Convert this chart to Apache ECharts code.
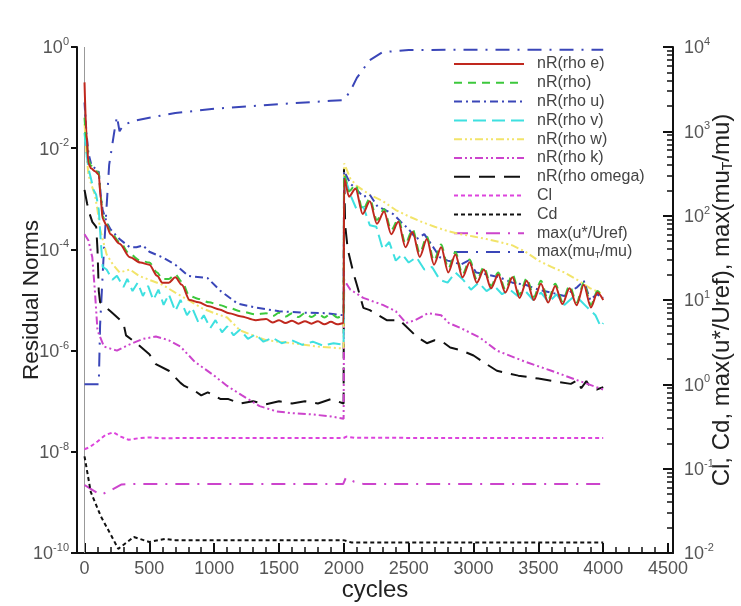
<!DOCTYPE html>
<html><head><meta charset="utf-8">
<script src="https://cdn.jsdelivr.net/npm/echarts@6/dist/echarts.min.js"></script>
<style>html,body{margin:0;padding:0;background:#fff}#c{width:741px;height:606px}</style>
</head><body><div id="c"></div>
<script>
// ---------- tick labels ----------
const xTickValues = [0,500,1000,1500,2000,2500,3000,3500,4000,4500];
const xMinorTickValues = [100,200,300,400,600,700,800,900,1100,1200,1300,1400,1600,1700,1800,1900,2100,2200,2300,2400,2600,2700,2800,2900,3100,3200,3300,3400,3600,3700,3800,3900,4100,4200,4300,4400];
const leftExponents = [-10,-8,-6,-4,-2,0];
const rightExponents = [-2,-1,0,1,2,3,4];
const rightMinorMultipliers = [2,3,4,5,6,7,8,9];

// ---------- series (cycle, value) ----------
const nR_rhoE = [[0,0.2],[15,0.02],[30,5e-3],[50,4e-3],[80,3.5e-3],[110,3e-3],[125,1e-3],[140,4e-4],[170,3e-4],[200,2e-4],[270,1.3e-4],[350,7e-5],[430,5.5e-5],[500,5e-5],[560,3e-5],[600,2.2e-5],[650,2.2e-5],[700,2.8e-5],[750,2e-5],[810,1e-5],[880,9e-6],[960,7.5e-6],[1040,6.5e-6],[1115,5.5e-6],[1200,4.8e-6],[1320,4e-6],[1400,4.2e-6],[1450,3.6e-6],[1500,4e-6],[1550,3.5e-6],[1600,3.9e-6],[1650,3.4e-6],[1700,3.8e-6],[1750,3.4e-6],[1800,3.8e-6],[1850,3.3e-6],[1900,3.7e-6],[1950,3.3e-6],[1998,3.5e-6],
[2002,2.5e-3],[2040,1.1e-3],[2090,1.6e-3],[2145,5e-4],[2200,8.9e-4],[2255,3.2e-4],[2310,5.6e-4],[2365,2e-4],[2420,3.5e-4],[2475,1.1e-4],[2530,2.2e-4],[2585,7.1e-5],[2640,1.6e-4],[2695,5e-5],[2750,1.1e-4],[2805,3.5e-5],[2860,7.9e-5],[2915,2.8e-5],[2970,5.6e-5],[3025,2.2e-5],[3080,4e-5],[3135,1.7e-5],[3190,3.2e-5],[3245,1.4e-5],[3300,2.8e-5],[3355,1.1e-5],[3410,2.4e-5],[3465,1e-5],[3520,2.1e-5],[3575,8.9e-6],[3630,1.9e-5],[3685,8.3e-6],[3740,1.7e-5],[3795,7.9e-6],[3850,2e-5],[3905,7.1e-6],[3955,1.4e-5],[4000,1e-5]];

const nR_rho = [[0,0.04],[15,0.015],[30,6e-3],[50,4.5e-3],[80,3.8e-3],[110,3.2e-3],[125,1.1e-3],[140,4.5e-4],[170,3.2e-4],[200,2.2e-4],[270,1.4e-4],[350,8e-5],[430,6e-5],[500,5.5e-5],[560,3.5e-5],[600,2.6e-5],[650,2.6e-5],[700,3.2e-5],[750,2.3e-5],[810,1.2e-5],[880,1.05e-5],[960,9e-6],[1040,8e-6],[1115,7e-6],[1200,6e-6],[1320,5.2e-6],[1400,5.5e-6],[1450,4.8e-6],[1500,5.6e-6],[1550,4.7e-6],[1600,5.5e-6],[1650,4.6e-6],[1700,5.5e-6],[1750,4.6e-6],[1800,5.4e-6],[1850,4.5e-6],[1900,5.4e-6],[1950,4.5e-6],[1998,5e-6],
[2002,3e-3],[2040,1.4e-3],[2090,1.9e-3],[2145,6e-4],[2200,1e-3],[2255,3.8e-4],[2310,6.3e-4],[2365,2.4e-4],[2420,4e-4],[2475,1.3e-4],[2530,2.5e-4],[2585,8.5e-5],[2640,1.8e-4],[2695,6e-5],[2750,1.25e-4],[2805,4.2e-5],[2860,8.9e-5],[2915,3.2e-5],[2970,6.3e-5],[3025,2.5e-5],[3080,4.5e-5],[3135,1.9e-5],[3190,3.5e-5],[3245,1.6e-5],[3300,3.2e-5],[3355,1.3e-5],[3410,2.7e-5],[3465,1.15e-5],[3520,2.4e-5],[3575,1e-5],[3630,2.1e-5],[3685,9.5e-6],[3740,1.9e-5],[3795,9e-6],[3850,2.2e-5],[3905,8e-6],[3955,1.5e-5],[4000,1.1e-5]];

const nR_rhoU = [[0,0.08],[15,0.02],[30,8e-3],[50,5e-3],[80,4e-3],[110,3.4e-3],[125,1.2e-3],[140,6e-4],[170,3.5e-4],[200,2.5e-4],[270,1.6e-4],[350,1.1e-4],[400,1.1e-4],[450,1.2e-4],[500,9e-5],[600,7e-5],[700,5e-5],[800,3e-5],[950,2.7e-5],[1050,1.5e-5],[1180,8.5e-6],[1330,7e-6],[1500,6e-6],[1700,5.6e-6],[1850,5.5e-6],[1998,5e-6],
[2002,3.5e-3],[2050,2e-3],[2100,1.5e-3],[2150,1.1e-3],[2200,1.2e-3],[2260,7e-4],[2320,6e-4],[2380,5e-4],[2440,3.5e-4],[2500,2.5e-4],[2560,1.6e-4],[2620,2e-4],[2680,1.2e-4],[2740,7e-5],[2800,6e-5],[2860,5.5e-5],[2900,5e-5],[2960,6e-5],[3020,3.5e-5],[3100,3.2e-5],[3200,2.8e-5],[3300,2.2e-5],[3400,2e-5],[3500,1.6e-5],[3600,1.4e-5],[3700,1.2e-5],[3800,1.8e-5],[3850,2.4e-5],[3900,1e-5],[3950,1.3e-5],[4000,1.1e-5]];

const nR_rhoV = [[0,0.02],[15,8e-3],[30,4e-3],[50,2.5e-3],[70,1.5e-3],[90,1.2e-3],[110,6e-4],[125,1.5e-4],[140,4.5e-5],[170,4e-5],[215,2.5e-5],[250,3e-5],[300,1.8e-5],[330,2.6e-5],[370,1.5e-5],[410,2.2e-5],[450,1.2e-5],[490,1.9e-5],[530,1e-5],[570,1.6e-5],[610,8e-6],[650,1.3e-5],[700,6e-6],[740,1e-5],[790,5e-6],[830,7e-6],[880,3.5e-6],[920,5e-6],[970,2.8e-6],[1010,4e-6],[1060,2.3e-6],[1100,3e-6],[1150,2e-6],[1200,2.6e-6],[1260,1.7e-6],[1320,2.1e-6],[1380,1.5e-6],[1450,1.8e-6],[1520,1.4e-6],[1600,1.6e-6],[1680,1.3e-6],[1760,1.5e-6],[1840,1.25e-6],[1920,1.4e-6],[1998,1.3e-6],
[2002,3e-3],[2050,1.2e-3],[2100,6e-4],[2150,7e-4],[2200,3e-4],[2250,2.8e-4],[2300,1e-4],[2350,1.4e-4],[2400,6e-5],[2450,8e-5],[2500,5.5e-5],[2560,7e-5],[2620,4e-5],[2680,4.5e-5],[2740,2.5e-5],[2800,2.2e-5],[2860,3.5e-5],[2920,2.5e-5],[2980,1.6e-5],[3040,2.2e-5],[3100,1.5e-5],[3160,1.9e-5],[3220,1.3e-5],[3280,1.6e-5],[3340,1.2e-5],[3400,1.5e-5],[3460,1e-5],[3520,1.4e-5],[3580,9e-6],[3640,1.3e-5],[3700,8e-6],[3760,1.1e-5],[3820,1e-5],[3880,7e-6],[3940,5e-6],[3980,3e-6],[4000,3.5e-6]];

const nR_rhoW = [[0,0.03],[15,8e-3],[30,3e-3],[50,2e-3],[80,1.2e-3],[100,6e-4],[120,2.5e-4],[170,8e-5],[220,5e-5],[270,3.5e-5],[350,4e-5],[420,3e-5],[500,2.5e-5],[600,2e-5],[700,1.4e-5],[800,1e-5],[900,7e-6],[1000,5.5e-6],[1100,4.5e-6],[1200,2.5e-6],[1300,2e-6],[1400,1.6e-6],[1600,1.4e-6],[1800,1.2e-6],[1998,1.1e-6],
[2002,5e-3],[2050,2.5e-3],[2100,1.8e-3],[2200,1.2e-3],[2300,9e-4],[2400,6e-4],[2500,4.5e-4],[2600,3.5e-4],[2700,2.8e-4],[2800,2.3e-4],[2900,2e-4],[3000,1.8e-4],[3100,1.6e-4],[3200,1.4e-4],[3300,1.2e-4],[3400,9e-5],[3500,6e-5],[3600,4.5e-5],[3700,3.5e-5],[3800,2.5e-5],[3900,1.7e-5],[4000,1.3e-5]];

const nR_rhoK = [[0,2e-4],[30,1.5e-4],[60,7e-5],[80,1.5e-5],[100,2.5e-6],[150,1.2e-6],[250,1e-6],[340,1.3e-6],[450,1.7e-6],[550,1.9e-6],[650,1.6e-6],[740,1.2e-6],[850,6e-7],[1000,3.2e-7],[1100,2e-7],[1215,1.3e-7],[1350,8e-8],[1480,6.3e-8],[1600,5.8e-8],[1750,5.5e-8],[1900,5e-8],[1998,4.5e-8],
[2002,2.5e-5],[2050,1.6e-5],[2150,1.1e-5],[2300,8e-6],[2400,6e-6],[2480,3.5e-6],[2550,4e-6],[2650,5.5e-6],[2750,5e-6],[2810,3.5e-6],[2900,2.8e-6],[3050,1.8e-6],[3180,1e-6],[3400,6e-7],[3600,4e-7],[3800,2.6e-7],[4000,1.7e-7]];

const nR_rhoOmega = [[0,1.5e-3],[20,8e-4],[40,5e-4],[60,3.5e-4],[90,2.8e-4],[100,1e-4],[110,1.5e-5],[120,9e-6],[200,6e-6],[300,3.5e-6],[320,2e-6],[400,1.4e-6],[500,8.5e-7],[550,5.4e-7],[650,4e-7],[740,2.3e-7],[770,2e-7],[850,1.6e-7],[900,1.3e-7],[950,1.5e-7],[1000,1.3e-7],[1050,1.1e-7],[1110,1.1e-7],[1200,9e-8],[1300,1e-7],[1400,8.7e-8],[1500,1e-7],[1600,9e-8],[1700,1e-7],[1800,9e-8],[1900,1.1e-7],[1998,9e-8],
[2001,4e-3],[2010,3e-4],[2030,1e-4],[2075,3.3e-5],[2100,2e-5],[2150,7e-6],[2200,6.3e-6],[2330,4e-6],[2430,4e-6],[2560,1.9e-6],[2640,1.4e-6],[2700,1.6e-6],[2760,1.5e-6],[2820,1.15e-6],[2910,1e-6],[3000,8e-7],[3100,5.4e-7],[3180,4e-7],[3345,3.2e-7],[3500,2.8e-7],[3650,2.4e-7],[3750,2.2e-7],[3800,2.6e-7],[3830,1.8e-7],[3870,2.5e-7],[3900,1.9e-7],[3950,1.7e-7],[4000,1.9e-7]];

const cl = [[0,0.17],[40,0.18],[100,0.21],[160,0.25],[220,0.27],[280,0.24],[340,0.22],[420,0.23],[500,0.235],[600,0.23],[1000,0.231],[1998,0.231],[2020,0.24],[2080,0.232],[4000,0.231]];
const cd = [[0,0.14],[48,0.053],[127,0.027],[207,0.016],[260,0.0112],[380,0.0155],[500,0.0135],[620,0.0147],[700,0.0142],[1998,0.0142],[2060,0.0133],[4000,0.0133]];
const maxUstar = [[0,0.064],[60,0.056],[127,0.049],[207,0.056],[286,0.065],[400,0.066],[1000,0.066],[1995,0.066],[2015,0.078],[2080,0.07],[2150,0.066],[4000,0.066]];
const maxMuT = [[0,1.0],[50,1.0],[110,1.0],[120,5],[150,40],[190,400],[230,1000],[250,1500],[270,1000],[300,1200],[400,1350],[500,1450],[700,1650],[1000,1850],[1300,2000],[1600,2150],[1900,2300],[2000,2350],[2050,3000],[2100,4300],[2200,7000],[2300,8700],[2500,9200],[3000,9300],[4000,9300]];

const names = ['nR(rho e)','nR(rho)','nR(rho u)','nR(rho v)','nR(rho w)','nR(rho k)','nR(rho omega)','Cl','Cd','max(u*/Uref)','max(mu_T/mu)'];
const colors = ['#c0281e','#3cc83c','#3a46b8','#3ee0e0','#f2e46a','#cc44cc','#111111','#dd44dd','#111111','#cc44cc','#3a46b8'];
const dashes = ['solid',[8,6],[8,4,2,4],[13,6],[8,3,2,3,2,3],[8,3,2,3,2,3],[16,9],[4,3],[4,3],[14,8,2,8],[14,8,2,8]];
const dataSets = [nR_rhoE,nR_rho,nR_rhoU,nR_rhoV,nR_rhoW,nR_rhoK,nR_rhoOmega,cl,cd,maxUstar,maxMuT];
const onRight = [false,false,false,false,false,false,false,true,true,true,true];
const smoothed = [0.3,0.3,0,0,0,0,0,0,0,0,0];

const FONT = 'Liberation Sans, Arial, sans-serif';
const X_MIN = -58, X_MAX = 4538;

const supRich = {
  b: {fontSize: 18, fontFamily: FONT, color: '#555', verticalAlign: 'bottom'},
  e: {fontSize: 11, fontFamily: FONT, color: '#555', verticalAlign: 'bottom', padding: [0,0,10,0]}
};

const series = names.map((n, i) => ({
  name: n, type: 'line', data: dataSets[i], symbol: 'none',
  smooth: smoothed[i], smoothMonotone: 'x',
  xAxisIndex: 0, yAxisIndex: onRight[i] ? 1 : 0,
  lineStyle: {color: colors[i], width: 2, type: dashes[i]},
  itemStyle: {color: colors[i]}, z: 5 + (10 - i), animation: false
}));
series[0].markLine = {silent: true, symbol: 'none', animation: false, label: {show: false},
  lineStyle: {color: '#999', width: 1, type: 'solid'}, data: [{xAxis: 0}]};

const rightMinor = [];
rightExponents.slice(0, -1).forEach(d => rightMinorMultipliers.forEach(k => rightMinor.push(d + Math.log10(k))));

const chart = echarts.init(document.getElementById('c'), null, {renderer: 'canvas'});
chart.setOption({
  animation: false,
  backgroundColor: '#fff',
  grid: {left: 77, top: 47, width: 596, height: 506, containLabel: false, outerBoundsMode: 'none'},
  legend: {
    orient: 'vertical', left: 453, top: 56, padding: 0,
    itemWidth: 70, itemHeight: 13, itemGap: 2.8,
    data: names, selectedMode: false,
    itemStyle: {opacity: 0},
    textStyle: {fontFamily: FONT, fontSize: 16, lineHeight: 13, color: '#444', padding: [0,0,0,8],
      rich: {sub: {fontSize: 9, lineHeight: 13, fontFamily: FONT, color: '#444', padding: [7,0,0,0]}}},
    formatter: n => n === 'max(mu_T/mu)' ? 'max(mu{sub|T}/mu)' : n
  },
  xAxis: [{
    type: 'value', min: X_MIN, max: X_MAX, position: 'bottom',
    name: 'cycles', nameLocation: 'middle', nameGap: 25, nameMoveOverlap: false,
    nameTextStyle: {fontFamily: FONT, fontSize: 24, color: '#222'},
    axisLine: {show: true, onZero: false, lineStyle: {color: '#111', width: 2}},
    axisTick: {show: true, inside: true, length: 10, customValues: xTickValues, lineStyle: {color: '#111', width: 2}},
    axisLabel: {show: true, customValues: xTickValues, formatter: v => String(v), fontFamily: FONT, fontSize: 18, color: '#555', margin: 7},
    splitLine: {show: false}
  }, {
    type: 'value', min: X_MIN, max: X_MAX, position: 'top', offset: -506,
    axisLine: {show: false, onZero: false},
    axisTick: {show: true, inside: false, length: 6, customValues: xMinorTickValues, lineStyle: {color: '#111', width: 1.5}},
    axisLabel: {show: false}, splitLine: {show: false}
  }],
  yAxis: [{
    type: 'log', logBase: 10, min: 1e-10, max: 1, position: 'left',
    axisLine: {show: true, onZero: false, lineStyle: {color: '#111', width: 2}},
    axisTick: {show: false}, axisLabel: {show: false}, splitLine: {show: false}
  }, {
    type: 'log', logBase: 10, min: 1e-2, max: 1e4, position: 'right',
    axisLine: {show: true, onZero: false, lineStyle: {color: '#111', width: 2}},
    axisTick: {show: false}, axisLabel: {show: false}, splitLine: {show: false}
  }, {
    type: 'value', min: -10, max: 0, interval: 2, position: 'left',
    name: 'Residual Norms', nameLocation: 'middle', nameGap: 34, nameMoveOverlap: false,
    nameTextStyle: {fontFamily: FONT, fontSize: 22.5, color: '#222'},
    axisLine: {show: false, onZero: false},
    axisTick: {show: true, inside: false, length: 6, lineStyle: {color: '#111', width: 2}},
    axisLabel: {show: true, margin: 8, formatter: v => '{b|10}{e|' + v + '}', rich: supRich},
    splitLine: {show: false}
  }, {
    type: 'value', min: -2, max: 4, interval: 1, position: 'right',
    name: 'Cl, Cd, max(u*/Uref), max(mu{sub|T}/mu)', nameLocation: 'middle', nameGap: 37, nameMoveOverlap: false,
    nameTextStyle: {fontFamily: FONT, fontSize: 24, color: '#222',
      rich: {sub: {fontSize: 14, fontFamily: FONT, color: '#222', padding: [11,0,0,0]}}},
    axisLine: {show: false, onZero: false},
    axisTick: {show: true, inside: true, length: 10, lineStyle: {color: '#111', width: 2}},
    axisLabel: {show: true, margin: 11, formatter: v => '{b|10}{e|' + v + '}', rich: supRich},
    splitLine: {show: false}
  }, {
    type: 'value', min: -2, max: 4, position: 'right',
    axisLine: {show: false, onZero: false},
    axisTick: {show: true, inside: true, length: 6, customValues: rightMinor, lineStyle: {color: '#111', width: 1.5}},
    axisLabel: {show: false}, splitLine: {show: false}
  }],
  series: series
});
</script>
</body></html>
